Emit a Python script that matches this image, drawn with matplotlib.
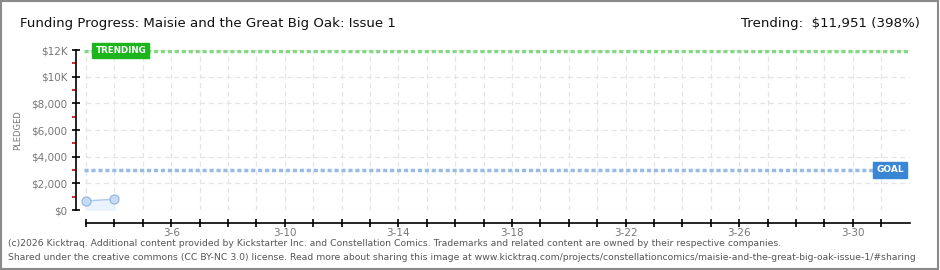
import datetime as dt
import matplotlib
matplotlib.use("Agg")
import matplotlib.pyplot as plt
import matplotlib.dates as mdates
from matplotlib.patches import Rectangle

# data
pledge_dates = [dt.date(2026, 3, 3), dt.date(2026, 3, 4)]
pledge_values = [680, 810]
goal = 3000
trending = 11951
trending_pct = 398
title = "Funding Progress: Maisie and the Great Big Oak: Issue 1"
y_ticks = [0, 2000, 4000, 6000, 8000, 10000, 12000]
y_labels = ["$0", "$2,000", "$4,000", "$6,000", "$8,000", "$10K", "$12K"]
x_ticks = [dt.date(2026, 3, d) for d in (6, 10, 14, 18, 22, 26, 30)]
x_labels = ["3-6", "3-10", "3-14", "3-18", "3-22", "3-26", "3-30"]
footer = [
    "(c)2026 Kicktraq. Additional content provided by Kickstarter Inc. and Constellation Comics. "
    "Trademarks and related content are owned by their respective companies.",
    "Shared under the creative commons (CC BY-NC 3.0) license. Read more about sharing this image at "
    "www.kicktraq.com/projects/constellationcomics/maisie-and-the-great-big-oak-issue-1/#sharing",
]

W, H = 940, 270
fig = plt.figure(figsize=(W / 100, H / 100), dpi=100)
fig.patch.set_facecolor("white")

# figure border
fig.add_artist(Rectangle((0.001, 0.002), 0.997, 0.995, transform=fig.transFigure,
                         fill=False, edgecolor="#8a8a8a", linewidth=1.5))

ax = fig.add_axes([76 / W, (H - 210) / H, (910 - 76) / W, 160 / H])
start = dt.date(2026, 3, 3)
px_day = 28.4
x_start = mdates.date2num(start)
x0 = x_start - 10 / px_day
x1 = x_start + 824 / px_day
ax.set_xlim(x0, x1)
ax.set_ylim(0, 12000)

# grid
days = [start + dt.timedelta(days=i) for i in range(29)]
grid_kw = dict(color="#e4e4e4", linestyle=(0, (4, 3)), linewidth=0.9, zorder=0)
for d in days:
    ax.axvline(d, **grid_kw)
for v in y_ticks:
    ax.hlines(v, x_start, x1, **grid_kw)

# trending and goal lines
ax.hlines(trending, x_start - 2 / px_day, x1, color="#84d884", linestyle=(0, (1.2, 0.8)),
          linewidth=2.5, zorder=1)
ax.hlines(goal, x_start - 2 / px_day, x1, color="#98bce4", linestyle=(0, (1.2, 0.8)),
          linewidth=2.5, zorder=1)

# pledges
ax.fill_between(pledge_dates, pledge_values, 0, color="#eaf2fb", zorder=2)
ax.plot(pledge_dates, pledge_values, color="#a9c9ec", linewidth=1, zorder=3,
        marker="o", markersize=6.5, markerfacecolor="#c4dcf6", markeredgecolor="#8fb4de",
        markeredgewidth=0.8)

# labels on lines
trend_x = x_start + 9.5 / px_day
goal_x = x_start + 818 / px_day
ax.text(trend_x, trending, "TRENDING", color="white",
        fontsize=6.3, fontweight="bold", va="center", ha="left", zorder=5,
        bbox=dict(boxstyle="square,pad=0.35", facecolor="#1cb51c", edgecolor="#1cb51c"))
ax.text(goal_x, goal, "GOAL", color="white",
        fontsize=6.5, fontweight="bold", va="center", ha="right", zorder=5,
        bbox=dict(boxstyle="square,pad=0.35", facecolor="#3a86d4", edgecolor="#3a86d4"))

# spines
for s in ("top", "right"):
    ax.spines[s].set_visible(False)
ax.spines["left"].set_linewidth(1.2)
ax.spines["bottom"].set_position(("outward", 9))
ax.spines["bottom"].set_bounds(x_start, x1)
ax.spines["bottom"].set_linewidth(1.2)

ax.set_yticks(y_ticks)
ax.set_yticklabels(y_labels)
ax.set_yticks(range(1000, 12000, 2000), minor=True)
ax.tick_params(axis="y", which="major", direction="inout", length=6, width=1.2,
               labelsize=7.5, labelcolor="#777777", pad=3)
ax.tick_params(axis="y", which="minor", direction="out", length=3, width=1.2, color="#e00000")

ax.set_xticks(days, minor=True)
ax.set_xticks(x_ticks)
ax.set_xticklabels(x_labels)
ax.tick_params(axis="x", which="both", direction="inout", length=6, width=1.2,
               labelsize=7.5, labelcolor="#777777", pad=1)

ax.set_ylabel("PLEDGED", fontsize=6, color="#777777")
ax.yaxis.set_label_coords(-0.065, 0.5)

# header
fig.text(20 / W, 1 - 24 / H, title, fontsize=9.6, color="#111111", va="center", ha="left")
fig.text(920 / W, 1 - 24 / H, f"Trending:  ${trending:,} ({trending_pct}%)", fontsize=9.6,
         color="#111111", va="center", ha="right")

# footer
fig.text(8 / W, 1 - 243 / H, footer[0], fontsize=6.7, color="#555555", va="center", ha="left")
fig.text(8 / W, 1 - 257 / H, footer[1], fontsize=6.7, color="#555555", va="center", ha="left")

fig.savefig("out.png", dpi=100)
